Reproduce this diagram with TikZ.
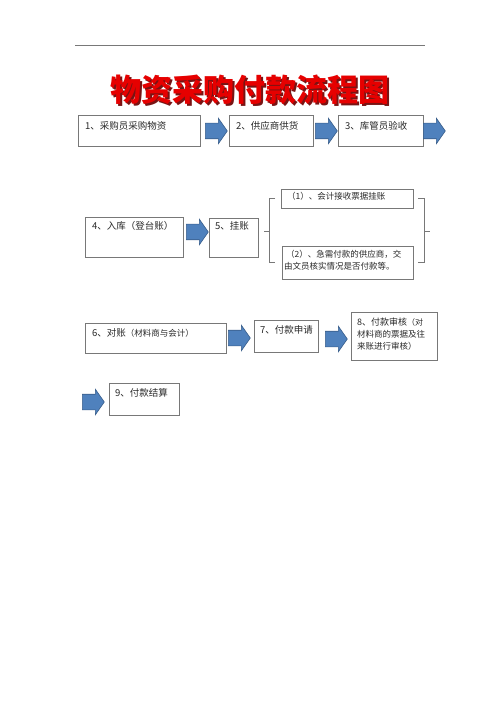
\documentclass[tikz,border=0pt]{standalone}
\usepackage{fontspec}
\newfontfamily\cjk{Noto Sans CJK SC}
\usetikzlibrary{shapes.arrows,calc}
\definecolor{arrfill}{RGB}{79,129,189}
\definecolor{arrdraw}{RGB}{56,93,138}
\definecolor{boxline}{RGB}{120,120,120}
\definecolor{txt}{RGB}{40,40,40}
\definecolor{titlered}{RGB}{230,0,0}
\definecolor{titleshadow}{RGB}{120,20,20}
\tikzset{
  box/.style={draw=boxline, line width=0.7pt, rectangle, inner sep=0pt, anchor=north west},
  btxt/.style={anchor=north west, inner sep=0pt, font=\cjk\fontsize{9.5}{13}\selectfont, text=txt, align=left},
  stxt/.style={anchor=north west, inner sep=0pt, font=\cjk\fontsize{8.5}{12.5}\selectfont, text=txt, align=left},
  blockarrow/.style={single arrow, fill=arrfill, draw=arrdraw, line width=0.6pt,
    inner xsep=0pt, inner ysep=7.5pt, minimum height=22pt, minimum width=1pt,
    single arrow head extend=5pt, single arrow tip angle=110, anchor=west},
  brace/.style={draw=boxline, line width=0.7pt}
}
\begin{document}
\begin{tikzpicture}[x=1pt,y=-1pt]
\useasboundingbox (0,0) rectangle (500,708);
\fill[white] (0,0) rectangle (500,708);
% header rule
\draw[boxline, line width=0.6pt] (75,45) -- (425,45);
% title
\node[font=\cjk\bfseries\fontsize{31}{31}\selectfont, text=titleshadow, inner sep=0pt] (tshadow) at (251.5,91.5) {物资采购付款流程图};
\node[font=\cjk\bfseries\fontsize{31}{31}\selectfont, text=titlered, inner sep=0pt] (title) at (250,90) {物资采购付款流程图};
% row 1
\node[box, minimum width=122pt, minimum height=31pt] (b1) at (78,115) {};
\node[btxt] (t1) at ($(b1.north west)+(7,6)$) {1、采购员采购物资};
\node[blockarrow] (a1) at (205,131) {};
\node[box, minimum width=84pt, minimum height=31pt] (b2) at (229,115) {};
\node[btxt] (t2) at ($(b2.north west)+(7,6)$) {2、供应商供货};
\node[blockarrow] (a2) at (315,131) {};
\node[box, minimum width=85pt, minimum height=31pt] (b3) at (338,115) {};
\node[btxt] (t3) at ($(b3.north west)+(7,6)$) {3、库管员验收};
\node[blockarrow] (a3) at (423,131) {};
% row 2
\node[box, minimum width=98pt, minimum height=40pt] (b4) at (85,217) {};
\node[btxt] (t4) at ($(b4.north west)+(7,4)$) {4、入库（登台账）};
\node[blockarrow] (a4) at (186,232) {};
\node[box, minimum width=49pt, minimum height=39pt] (b5) at (209,218) {};
\node[btxt] (t5) at ($(b5.north west)+(6,3)$) {5、挂账};
\node[box, minimum width=132pt, minimum height=19pt] (s1) at (281,189) {};
\node[stxt] (ts1) at ($(s1.north west)+(6,3)$) {（1）、会计接收票据挂账};
\node[box, minimum width=131pt, minimum height=33pt] (s2) at (282,246) {};
\node[stxt] (ts2) at ($(s2.north west)+(2,4)$) {\hspace*{2pt}（2）、急需付款的供应商，交\\由文员核实情况是否付款等。};
% braces
\draw[brace] (275,198) -- (269,198) -- (269,262) -- (275,262);
\draw[brace] (269,231) -- (264,231);
\draw[brace] (418,198) -- (424,198) -- (424,262) -- (418,262);
\draw[brace] (424,231) -- (430,231);
% row 3
\node[box, minimum width=141pt, minimum height=30pt] (b6) at (85,323) {};
\node[btxt] (t6) at ($(b6.north west)+(7,5)$) {6、对账{\fontsize{8.5}{10}\selectfont（材料商与会计）}};
\node[blockarrow] (a5) at (228,338) {};
\node[box, minimum width=64pt, minimum height=32pt] (b7) at (254,320) {};
\node[btxt] (t7) at ($(b7.north west)+(6,5)$) {7、付款申请};
\node[blockarrow] (a6) at (325,339) {};
\node[box, minimum width=86pt, minimum height=48pt] (b8) at (351,312) {};
\node[btxt, font=\cjk\fontsize{9}{12}\selectfont] (t8) at ($(b8.north west)+(6,6)$) {8、付款审核{\fontsize{8}{10}\selectfont（对}\\{\fontsize{8.5}{10}\selectfont 材料商的票据及往}\\{\fontsize{8.5}{10}\selectfont 来账进行审核）}};
% row 4
\node[blockarrow] (a7) at (82,402) {};
\node[box, minimum width=70pt, minimum height=32pt] (b9) at (109,383) {};
\node[btxt] (t9) at ($(b9.north west)+(6,5)$) {9、付款结算};
\end{tikzpicture}
\end{document}
